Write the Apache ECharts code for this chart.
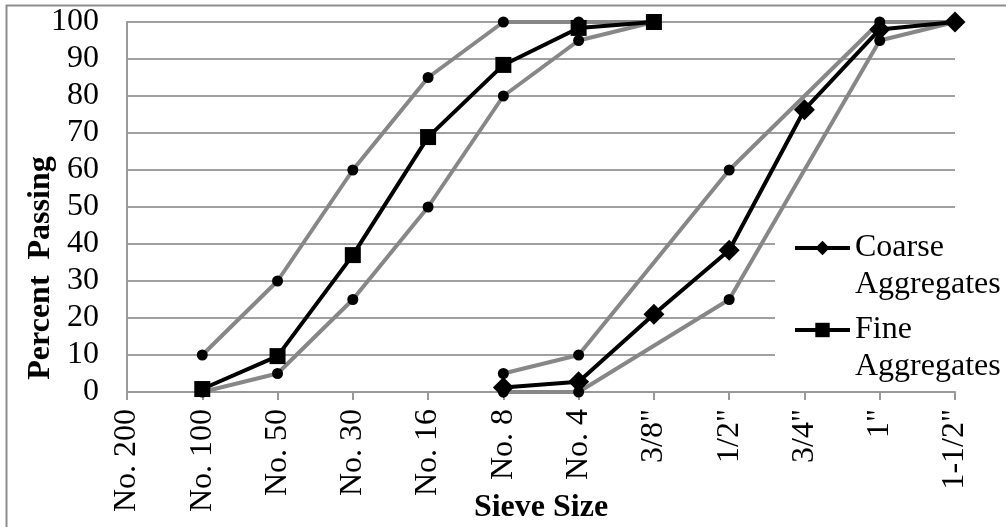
<!DOCTYPE html>
<html>
<head>
<meta charset="utf-8">
<script src="https://cdn.jsdelivr.net/npm/echarts@6/dist/echarts.min.js"></script>
<style>html,body{margin:0;padding:0;background:#fff}#c{width:1006px;height:527px}</style>
</head>
<body>
<div id="c"></div>
<script>
var categories = ['No. 200','No. 100','No. 50','No. 30','No. 16','No. 8','No. 4','3/8"','1/2"','3/4"','1"','1-1/2"'];
var yTicks = [0,10,20,30,40,50,60,70,80,90,100];
var fineUpper   = [null,10,30,60,85,100,100,100,null,null,null,null];
var fineLower   = [null,0,5,25,50,80,95,100,null,null,null,null];
var coarseUpper = [null,null,null,null,null,5,10,null,60,null,100,100];
var coarseLower = [null,null,null,null,null,0,0,null,25,null,95,100];
var coarseAgg   = [null,null,null,null,null,1.2,2.8,21,38.3,76.3,98,100];
var fineAgg     = [null,0.8,9.7,37,68.9,88.4,98.4,100,null,null,null,null];

var FONT = '"Liberation Serif","Times New Roman",serif';
var FS = 32;
var chart = echarts.init(document.getElementById('c'), null, {renderer:'canvas'});

function gray(name, data){
  return {name:name, type:'line', data:data, connectNulls:true, symbol:'circle', symbolSize:11,
    lineStyle:{color:'#878787', width:4}, itemStyle:{color:'#000'}, z:2, silent:true, animation:false};
}
function legendAt(name, top){
  return {data:[name], orient:'vertical', left:793, top:top, padding:0,
    itemWidth:55, itemHeight:18, itemGap:0,
    lineStyle:{width:4},
    formatter:function(n){return '\n' + n.replace(' ','\n');},
    textStyle:{color:'#000', fontFamily:FONT, fontSize:FS, lineHeight:37}};
}
chart.setOption({
  animation:false,
  grid:{left:127, right:51, top:22, bottom:135, containLabel:false, outerBoundsMode:'none'},
  xAxis:{type:'category', data:categories, boundaryGap:false,
    axisLine:{lineStyle:{color:'#999', width:2}},
    axisTick:{show:true, length:8, lineStyle:{color:'#999', width:2}},
    axisLabel:{rotate:90, margin:17, color:'#000', fontFamily:FONT, fontSize:FS, interval:0},
    splitLine:{show:false},
    name:'Sieve Size', nameLocation:'middle', nameGap:100, nameMoveOverlap:false,
    nameTextStyle:{color:'#000', fontFamily:FONT, fontSize:FS, fontWeight:'bold'}},
  yAxis:{type:'value', min:0, max:100, interval:10,
    axisLine:{show:true, lineStyle:{color:'#999', width:2}},
    axisTick:{show:false},
    axisLabel:{margin:28, color:'#000', fontFamily:FONT, fontSize:FS,
      formatter:function(v){return yTicks.indexOf(v)>=0 ? String(v) : '';}},
    splitLine:{show:true, lineStyle:{color:'#a0a0a0', width:2}}},
  legend:[legendAt('Coarse Aggregates', 248-55.5), legendAt('Fine Aggregates', 330-55.5)],
  graphic:[
    {type:'rect', z:1, shape:{x:775, y:226, width:231, height:146}, style:{fill:'#fff'}},
    {type:'text', x:41, y:268, rotation:Math.PI/2,
      style:{text:'Percent  Passing', fill:'#000', font:'bold '+FS+'px '+FONT, align:'center', verticalAlign:'middle'}},
    {type:'line', shape:{x1:6, y1:5.5, x2:1006, y2:5.5}, style:{stroke:'#8c8c8c', lineWidth:2}},
    {type:'line', shape:{x1:6.5, y1:5, x2:6.5, y2:527}, style:{stroke:'#8c8c8c', lineWidth:2}}
  ],
  series:[
    gray('fu', fineUpper), gray('fl', fineLower), gray('cu', coarseUpper), gray('cl', coarseLower),
    {name:'Coarse Aggregates', type:'line', data:coarseAgg, symbol:'diamond', symbolSize:21,
      lineStyle:{color:'#000', width:4}, itemStyle:{color:'#000'}, z:3},
    {name:'Fine Aggregates', type:'line', data:fineAgg, symbol:'rect', symbolSize:16,
      lineStyle:{color:'#000', width:4}, itemStyle:{color:'#000'}, z:3}
  ]
});
</script>
</body>
</html>
